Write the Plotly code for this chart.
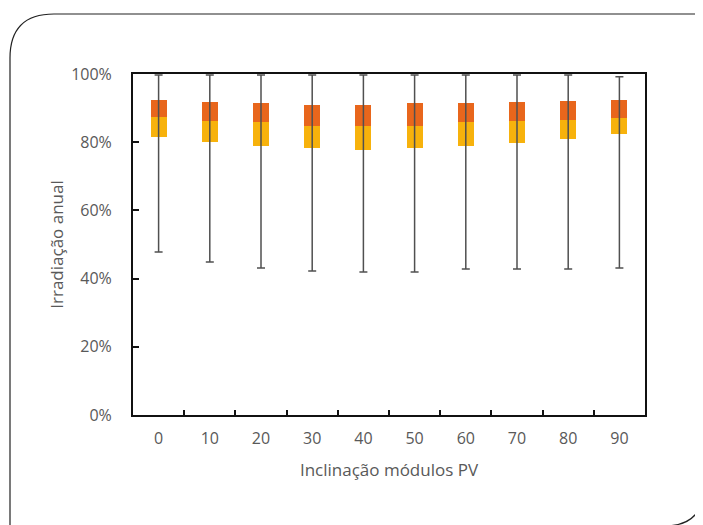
import plotly.graph_objects as go

categories = ["0", "10", "20", "30", "40", "50", "60", "70", "80", "90"]
whisker_max = [0.997, 0.997, 0.997, 0.997, 0.997, 0.997, 0.997, 0.997, 0.997, 0.992]
q3 = [0.924, 0.919, 0.914, 0.909, 0.909, 0.914, 0.914, 0.917, 0.921, 0.924]
median = [0.875, 0.862, 0.858, 0.848, 0.848, 0.848, 0.858, 0.862, 0.865, 0.870]
q1 = [0.814, 0.800, 0.789, 0.782, 0.777, 0.782, 0.789, 0.799, 0.809, 0.824]
whisker_min = [0.478, 0.449, 0.431, 0.422, 0.419, 0.419, 0.428, 0.428, 0.428, 0.431]

OFF = 8  # default page body margin
W, H = 703 - OFF, 525 - OFF
L, R, T, B = 133 - OFF, 645 - OFF, 74 - OFF, 415 - OFF


def px(x, y):
    # page pixel -> paper coordinates
    x -= OFF
    y -= OFF
    return (x - L) / (R - L), (B - y) / (B - T)


fig = go.Figure()
fig.add_trace(go.Bar(
    x=categories, y=[m - a for m, a in zip(median, q1)], base=q1,
    width=0.31, marker=dict(color="#F7B20C", line=dict(width=0)),
    showlegend=False, hoverinfo="skip"))
fig.add_trace(go.Bar(
    x=categories, y=[b - m for b, m in zip(q3, median)], base=median,
    width=0.31, marker=dict(color="#E8661C", line=dict(width=0)),
    showlegend=False, hoverinfo="skip"))
fig.add_trace(go.Scatter(
    x=categories, y=median, mode="markers",
    marker=dict(size=1, color="rgba(0,0,0,0)"),
    error_y=dict(type="data", symmetric=False,
                 array=[a - m for a, m in zip(whisker_max, median)],
                 arrayminus=[m - b for m, b in zip(median, whisker_min)],
                 color="#505050", thickness=1.5, width=4),
    showlegend=False, hoverinfo="skip"))

# decorative frame (rounded corners top-left and bottom-right)
x0, y0 = px(10, 530)
x1, y1 = px(10, 58)
xc, yc = px(10, 14)
x2, y2 = px(54, 14)
x3, y3 = px(703, 14)
frame = f"M {x0},{y0} L {x1},{y1} Q {xc},{yc} {x2},{y2} L {x3},{y3}"
a0 = px(704, 486)
ac = px(704, 526)
a1 = px(664, 526)
arc = f"M {a0[0]},{a0[1]} Q {ac[0]},{ac[1]} {a1[0]},{a1[1]}"

fig.update_layout(
    width=W, height=H,
    margin=dict(l=L, r=W - R, t=T, b=H - B),
    paper_bgcolor="white", plot_bgcolor="white",
    barmode="overlay", bargap=0,
    font=dict(family="Open Sans, Liberation Sans, sans-serif", color="#595959", size=16),
    shapes=[
        dict(type="path", xref="paper", yref="paper", path=frame,
             line=dict(color="#222222", width=1.2)),
        dict(type="path", xref="paper", yref="paper", path=arc,
             line=dict(color="#222222", width=1.2)),
    ],
    xaxis=dict(
        type="category", range=[-0.5, 9.5],
        showline=True, mirror=True, linecolor="#111111", linewidth=2,
        ticks="inside", tickson="boundaries", ticklen=5, tickcolor="#111111", tickwidth=1.5,
        showgrid=False, zeroline=False,
        tickfont=dict(size=16, color="#595959"),
        ticklabelstandoff=8,
        title=dict(text="Inclinação módulos PV", font=dict(size=17, color="#595959"), standoff=16),
    ),
    yaxis=dict(
        range=[0, 1], dtick=0.2, tickformat=".0%",
        showline=True, mirror=True, linecolor="#111111", linewidth=2,
        ticks="inside", ticklen=6, tickcolor="#111111", tickwidth=1.5,
        showgrid=False, zeroline=False,
        tickfont=dict(size=16, color="#595959"),
        ticklabelstandoff=16,
        title=dict(text="Irradiação anual", font=dict(size=17, color="#595959"), standoff=3),
    ),
)

fig.write_html("out.html")
